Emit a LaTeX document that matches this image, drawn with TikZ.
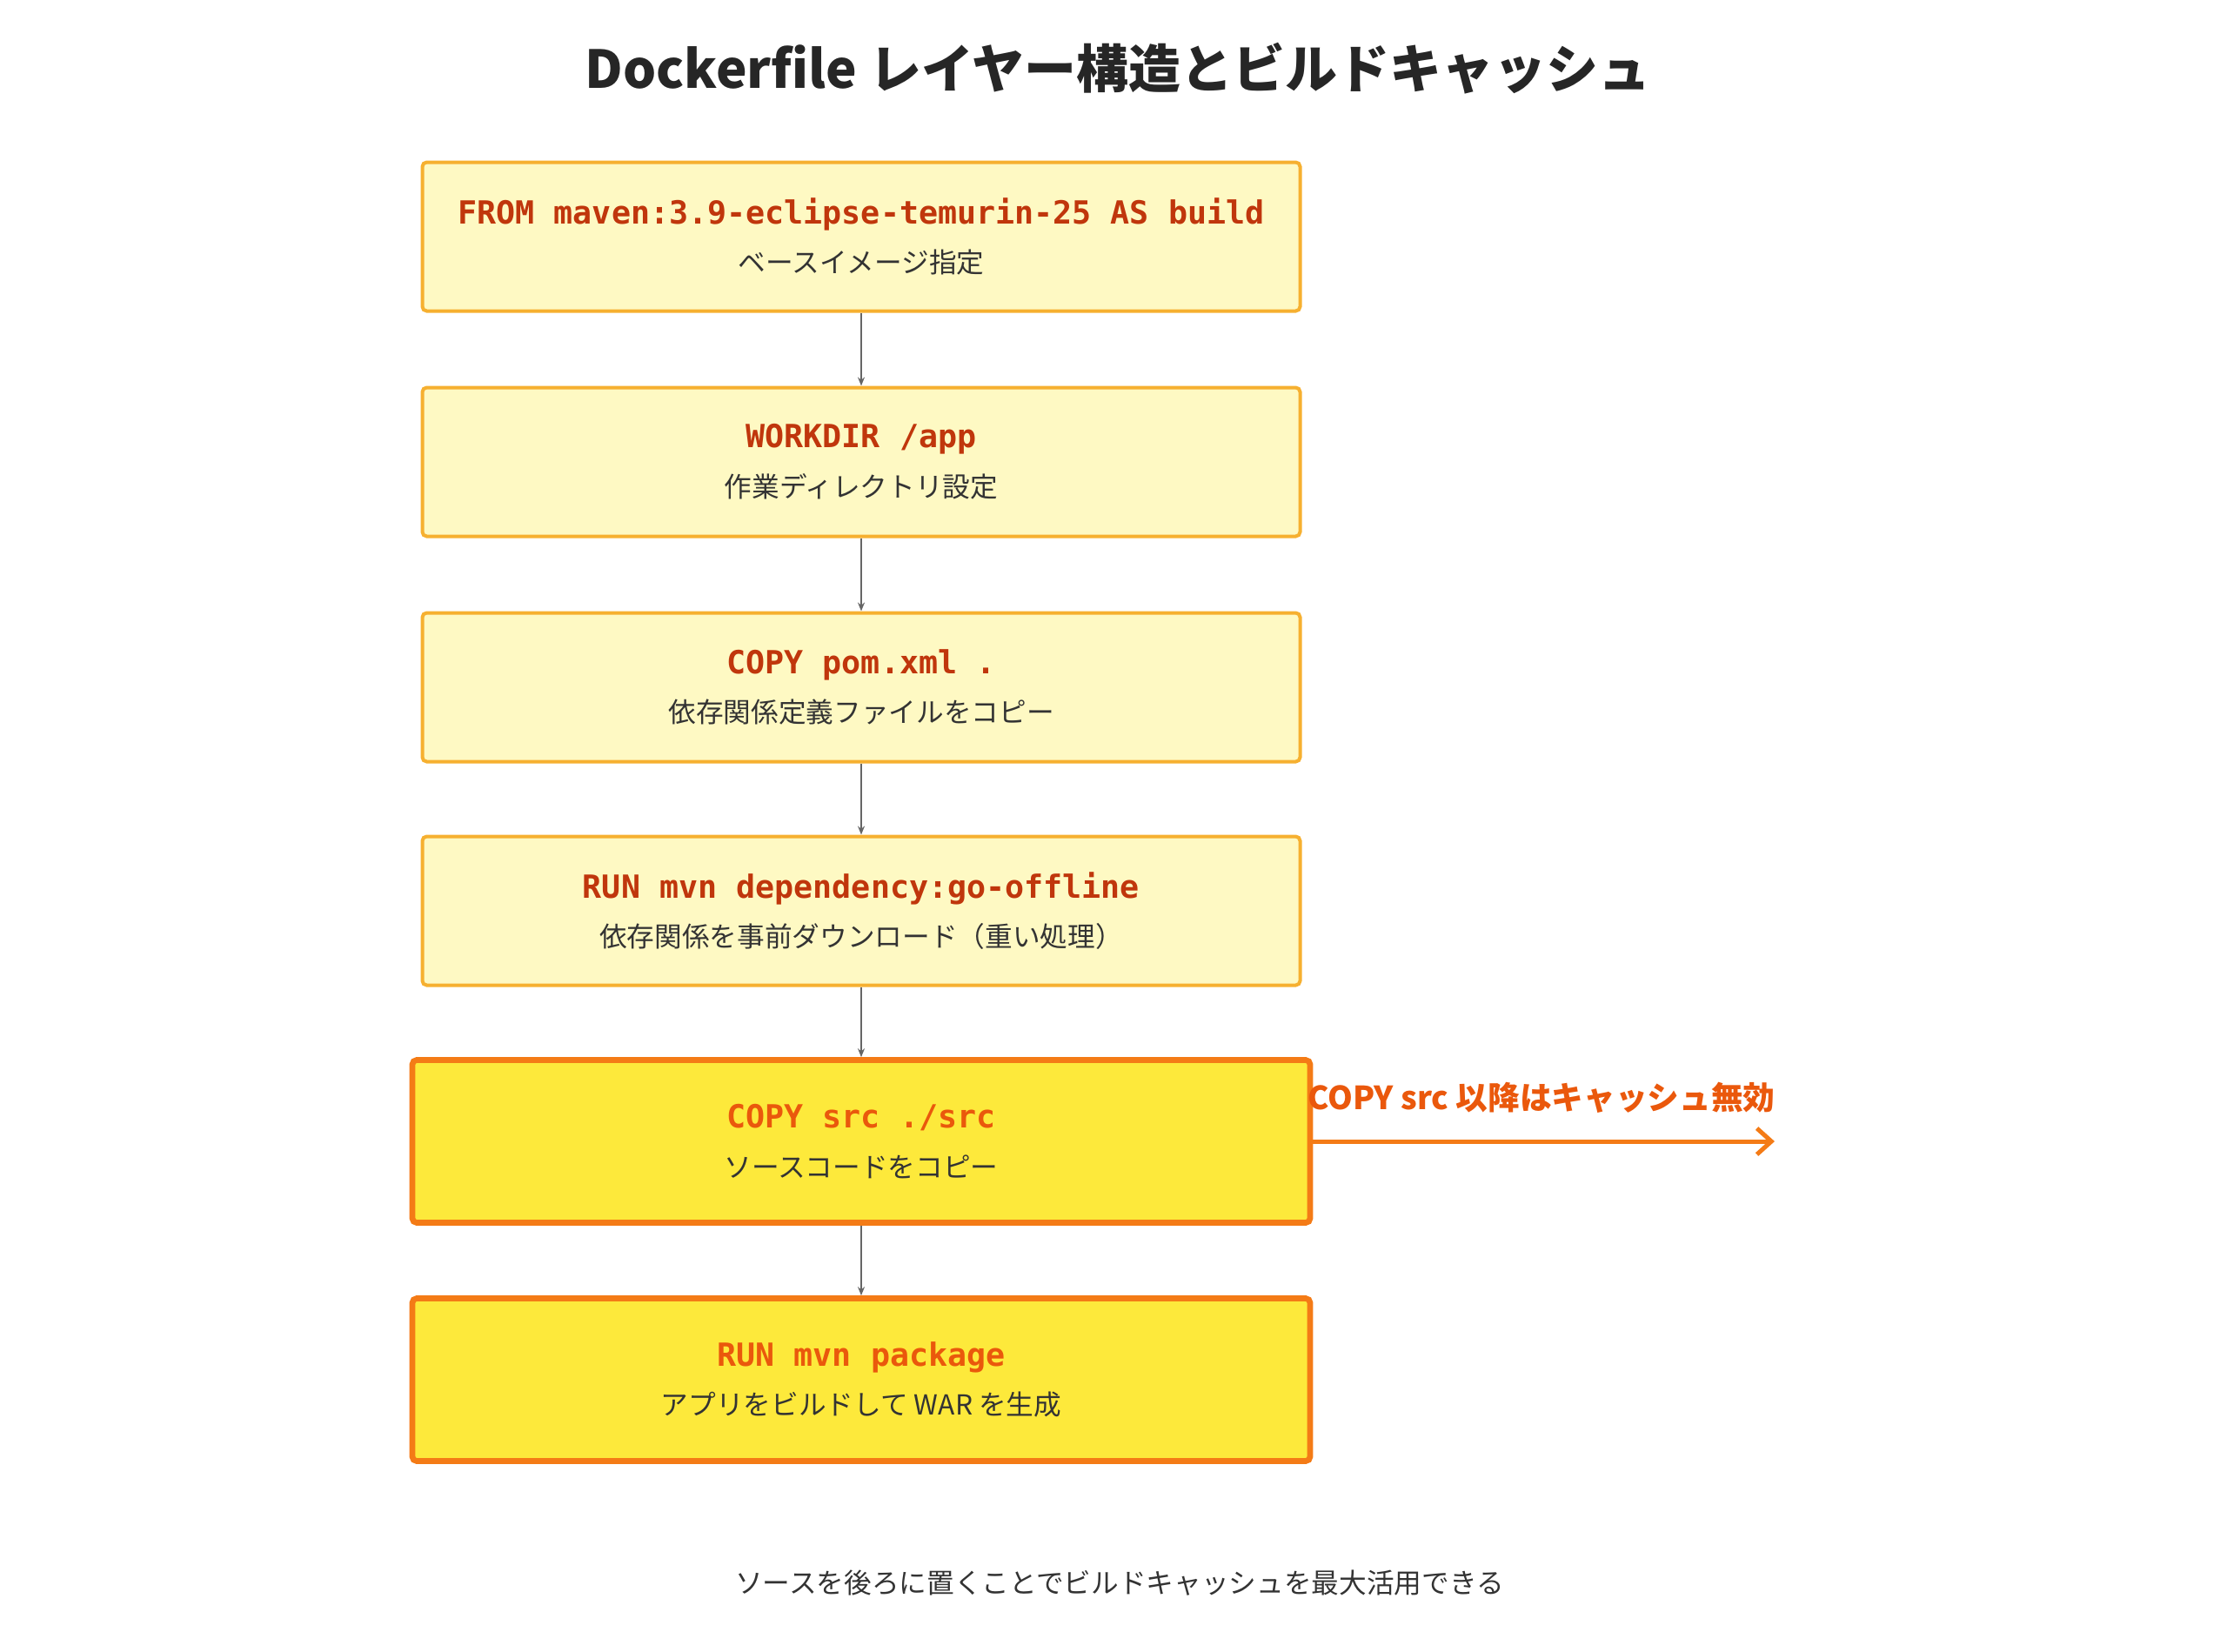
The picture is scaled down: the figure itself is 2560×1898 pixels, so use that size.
\documentclass[tikz,border=0pt]{standalone}
\usepackage{fontspec}
\setmainfont{Noto Sans CJK JP}
\setmonofont{DejaVu Sans Mono}
\usetikzlibrary{positioning,arrows.meta}
\definecolor{layerfill}{HTML}{FEF9C3}
\definecolor{layerline}{HTML}{F6B030}
\definecolor{codered}{HTML}{C0360C}
\definecolor{hotfill}{HTML}{FDE93B}
\definecolor{hotline}{HTML}{F47B16}
\definecolor{hottext}{HTML}{EA580C}
\definecolor{flowgray}{HTML}{666666}
\tikzset{
  layer/.style={draw=layerline, fill=layerfill, line width=1.2pt, rounded corners=1.5pt,
    minimum width=302.7pt, minimum height=51.3pt, align=center, inner sep=0pt},
  hotlayer/.style={layer, draw=hotline, fill=hotfill, line width=2pt,
    minimum width=309.6pt, minimum height=56.1pt},
  flow/.style={draw=flowgray, line width=0.5pt, -{Stealth[length=3pt,width=2.4pt]}},
}
\newcommand{\cmd}[2]{{\ttfamily\bfseries\fontsize{11pt}{13pt}\selectfont\color{#1}#2}}
\newcommand{\note}[1]{{\fontsize{9.5pt}{12pt}\selectfont\color{black!80}#1}}
\begin{document}
\begin{tikzpicture}[x=0.3pt,y=-0.3pt]
\useasboundingbox (0,0) rectangle (2560,1898);
\node[font=\bfseries\fontsize{18pt}{22pt}\selectfont, text=black!85] (title) at (1285,79) {Dockerfile レイヤー構造とビルドキャッシュ};

\node[layer] (from) at (990,272) {\cmd{codered}{FROM maven:3.9-eclipse-temurin-25 AS build}\\[5pt]\note{ベースイメージ指定}};
\node[layer] (workdir) at (990,531) {\cmd{codered}{WORKDIR /app}\\[5pt]\note{作業ディレクトリ設定}};
\node[layer] (pom) at (990,790) {\cmd{codered}{COPY pom.xml .}\\[5pt]\note{依存関係定義ファイルをコピー}};
\node[layer] (deps) at (990,1047) {\cmd{codered}{RUN mvn dependency:go-offline}\\[5pt]\note{依存関係を事前ダウンロード（重い処理）}};
\node[hotlayer] (src) at (990,1312) {\cmd{hottext}{COPY src ./src}\\[5pt]\note{ソースコードをコピー}};
\node[hotlayer] (pkg) at (990,1586) {\cmd{hottext}{RUN mvn package}\\[5pt]\note{アプリをビルドして WAR を生成}};

\draw[flow] (from) -- (workdir);
\draw[flow] (workdir) -- (pom);
\draw[flow] (pom) -- (deps);
\draw[flow] (deps) -- (src);
\draw[flow] (src) -- (pkg);

\coordinate (cacheend) at (2040,1312);
\draw[draw=hotline, line width=1.5pt, -{Straight Barb[length=5pt,width=9pt]}] (src.east) -- (cacheend);
\node[font=\bfseries\fontsize{11pt}{13pt}\selectfont, text=hottext] (cachenote) at (1772,1262) {COPY src 以降はキャッシュ無効};

\node[font=\fontsize{9.5pt}{12pt}\selectfont, text=black!80] (footer) at (1287,1820) {ソースを後ろに置くことでビルドキャッシュを最大活用できる};
\end{tikzpicture}
\end{document}
